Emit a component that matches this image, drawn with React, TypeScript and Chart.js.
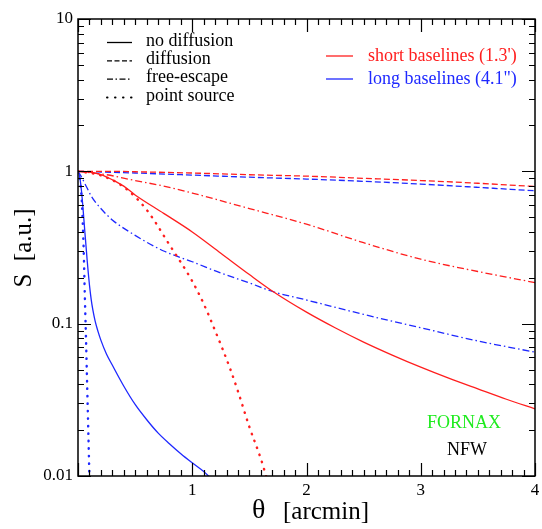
import React, { useEffect, useRef } from "react";
import { Chart, registerables } from "chart.js";

Chart.register(...registerables);

// Surface brightness profiles S(θ), normalised to 1 at the centre.
// Pairs are [θ in arcmin, S in arbitrary units].
const shortNoDiffusion: [number, number][] = [
  [0, 1], [0.1, 0.99], [0.2, 0.95], [0.3, 0.88], [0.4, 0.8], [0.5, 0.7], [0.75, 0.53],
  [1, 0.4], [1.25, 0.29], [1.5, 0.21], [1.71, 0.162], [2, 0.119], [2.25, 0.094],
  [2.5, 0.0757], [2.75, 0.0622], [3, 0.0518], [3.25, 0.0437], [3.5, 0.0373],
  [3.75, 0.0319], [4, 0.0276],
];
const shortDiffusion: [number, number][] = [
  [0, 1], [0.3, 1], [0.6, 0.99], [1, 0.975], [1.5, 0.95], [2, 0.93], [2.5, 0.9],
  [3, 0.87], [3.5, 0.835], [4, 0.795],
];
const shortFreeEscape: [number, number][] = [
  [0, 1], [0.25, 0.95], [0.5, 0.87], [0.75, 0.8], [1, 0.72], [1.5, 0.57], [2, 0.45],
  [2.5, 0.34], [3, 0.265], [3.5, 0.22], [4, 0.186],
];
const shortPointSource: [number, number][] = [
  [0, 1], [0.2, 0.94], [0.4, 0.79], [0.6, 0.56], [0.8, 0.33], [1, 0.19], [1.1, 0.135],
  [1.2, 0.09], [1.33, 0.051], [1.4, 0.036], [1.5, 0.021], [1.6, 0.013], [1.65, 0.0098],
];
const longNoDiffusion: [number, number][] = [
  [0, 1], [0.01, 0.96], [0.02, 0.87], [0.03, 0.75], [0.04, 0.62], [0.05, 0.5],
  [0.06, 0.4], [0.07, 0.325], [0.08, 0.262], [0.09, 0.215], [0.1, 0.18], [0.115, 0.145],
  [0.13, 0.123], [0.15, 0.104], [0.175, 0.089], [0.2, 0.078], [0.25, 0.063],
  [0.3, 0.0535], [0.4, 0.039], [0.5, 0.0295], [0.6, 0.0235], [0.7, 0.0192],
  [0.8, 0.0163], [0.9, 0.014], [1, 0.0122], [1.1, 0.0107], [1.15, 0.0099],
];
const longDiffusion: [number, number][] = [
  [0, 1], [0.2, 0.99], [0.5, 0.975], [1, 0.945], [1.5, 0.915], [2, 0.89], [2.5, 0.86],
  [3, 0.825], [3.5, 0.785], [4, 0.745],
];
const longFreeEscape: [number, number][] = [
  [0, 1], [0.03, 0.92], [0.075, 0.79], [0.12, 0.68], [0.2, 0.57], [0.3, 0.48], [0.5, 0.38],
  [0.75, 0.3], [1, 0.255], [1.25, 0.215], [1.5, 0.185], [1.71, 0.162], [2, 0.143],
  [2.5, 0.115], [3, 0.094], [3.5, 0.077], [4, 0.065],
];
const longPointSource: [number, number][] = [
  [0, 1], [0.02, 0.85], [0.035, 0.6], [0.05, 0.3], [0.06, 0.15], [0.07, 0.08],
  [0.08, 0.04], [0.09, 0.02], [0.1, 0.0098],
];

const xTickValues = [1, 2, 3, 4];
const xTickLabels = ["1", "2", "3", "4"];
const yTickValues = [0.01, 0.1, 1, 10];
const yTickLabels = ["0.01", "0.1", "1", "10"];

const styleLegend = ["no diffusion", "diffusion", "free-escape", "point source"];
const baselineLegend = ["short baselines (1.3')", "long baselines (4.1\")"];

const RED = "rgb(255,30,30)";
const BLUE = "rgb(30,40,255)";
const SOLID: number[] = [];
const DASHED = [6, 3];
const DASHDOT = [7, 3, 1.5, 3];
const DOTTED = [0.5, 7];
const styleDashes = [SOLID, [5, 2.5], [6, 2.5, 1.5, 2.5], [0.5, 7.5]];
const SERIF = "'Liberation Serif', 'Times New Roman', serif";

const toPoints = (arr: [number, number][]) => arr.map(([x, y]) => ({ x, y }));

const line = (data: [number, number][], color: string, dash: number[]) => ({
  data: toPoints(data),
  borderColor: color,
  borderWidth: dash === DOTTED ? 2.4 : 1.3,
  borderDash: dash,
  pointRadius: 0,
  fill: false,
  cubicInterpolationMode: "monotone" as const,
  borderCapStyle: dash === DOTTED ? ("round" as const) : ("butt" as const),
});

const framePlugin = {
  id: "frame",
  afterDraw(chart: any) {
    const { ctx, chartArea } = chart;
    const xs = chart.scales.x;
    const ys = chart.scales.y;
    const { left, right, top, bottom } = chartArea;
    ctx.save();
    ctx.strokeStyle = "#000";
    ctx.lineWidth = 1.5;
    ctx.strokeRect(left, top, right - left, bottom - top);

    // ticks along θ, pointing inward on bottom and top
    ctx.lineWidth = 1.2;
    for (let i = 0; i <= 40; i++) {
      const v = i / 10;
      const px = Math.round(xs.getPixelForValue(v)) + 0.5;
      const len = i % 10 === 0 ? 13 : 6;
      ctx.beginPath();
      ctx.moveTo(px, bottom);
      ctx.lineTo(px, bottom - len);
      ctx.moveTo(px, top);
      ctx.lineTo(px, top + len);
      ctx.stroke();
    }
    // logarithmic ticks along S, on left and right
    for (let d = -2; d <= 1; d++) {
      for (let m = 1; m <= 9; m++) {
        if (d === 1 && m > 1) break;
        const v = m * Math.pow(10, d);
        const py = Math.round(ys.getPixelForValue(v)) + 0.5;
        const len = m === 1 ? 13 : 6;
        ctx.beginPath();
        ctx.moveTo(left, py);
        ctx.lineTo(left + len, py);
        ctx.moveTo(right, py);
        ctx.lineTo(right - len, py);
        ctx.stroke();
      }
    }

    // tick labels
    ctx.fillStyle = "#000";
    ctx.font = `17px ${SERIF}`;
    ctx.textAlign = "center";
    ctx.textBaseline = "top";
    xTickValues.forEach((v, i) => {
      ctx.fillText(xTickLabels[i], xs.getPixelForValue(v), bottom + 6);
    });
    ctx.textAlign = "right";
    ctx.textBaseline = "middle";
    yTickValues.forEach((v, i) => {
      ctx.fillText(yTickLabels[i], left - 5, ys.getPixelForValue(v));
    });

    // axis titles
    ctx.textAlign = "left";
    ctx.font = `28px ${SERIF}`;
    ctx.fillText("θ", 252, bottom + 35);
    ctx.font = `25px ${SERIF}`;
    ctx.fillText("[arcmin]", 283, bottom + 36);
    ctx.textAlign = "center";
    ctx.save();
    ctx.translate(24, 248);
    ctx.rotate(-Math.PI / 2);
    ctx.fillText("S  [a.u.]", 0, 0);
    ctx.restore();

    // line-style key
    ctx.font = `18px ${SERIF}`;
    ctx.textAlign = "left";
    ctx.lineWidth = 1.3;
    styleLegend.forEach((label, i) => {
      const y = 41 + i * 18.3;
      ctx.setLineDash(styleDashes[i]);
      ctx.lineCap = i === 3 ? "round" : "butt";
      ctx.lineWidth = i === 3 ? 2 : 1.3;
      ctx.beginPath();
      ctx.moveTo(107, y + 1.5);
      ctx.lineTo(132, y + 1.5);
      ctx.stroke();
      ctx.setLineDash([]);
      ctx.fillStyle = "#000";
      ctx.fillText(label, 146, y);
    });
    ctx.lineCap = "butt";
    ctx.lineWidth = 1.3;

    // baseline key
    ctx.font = `18px ${SERIF}`;
    [RED, BLUE].forEach((c, i) => {
      const y = 56 + i * 23;
      ctx.strokeStyle = c;
      ctx.beginPath();
      ctx.moveTo(326, y);
      ctx.lineTo(353, y);
      ctx.stroke();
      ctx.fillStyle = c;
      ctx.fillText(baselineLegend[i], 368, y);
    });

    // annotations
    ctx.font = `18px ${SERIF}`;
    ctx.fillStyle = "rgb(30,235,30)";
    ctx.fillText("FORNAX", 427, 423);
    ctx.fillStyle = "#000";
    ctx.fillText("NFW", 447, 450);
    ctx.restore();
  },
};

export default function App() {
  const ref = useRef<HTMLCanvasElement | null>(null);
  useEffect(() => {
    if (!ref.current) return;
    const chart = new Chart(ref.current, {
      type: "line",
      data: {
        datasets: [
          line(shortNoDiffusion, RED, SOLID),
          line(shortDiffusion, RED, DASHED),
          line(shortFreeEscape, RED, DASHDOT),
          line(shortPointSource, RED, DOTTED),
          line(longNoDiffusion, BLUE, SOLID),
          line(longDiffusion, BLUE, DASHED),
          line(longFreeEscape, BLUE, DASHDOT),
          line(longPointSource, BLUE, DOTTED),
        ] as any,
      },
      plugins: [framePlugin],
      options: {
        responsive: false,
        animation: false,
        layout: { padding: { left: 78, top: 19, right: 7, bottom: 53 } },
        plugins: { legend: { display: false }, tooltip: { enabled: false } },
        scales: {
          x: { type: "linear", min: 0, max: 4, display: false },
          y: { type: "logarithmic", min: 0.01, max: 10, display: false },
        },
      },
    });
    return () => chart.destroy();
  }, []);
  return (
    <div style={{ position: "fixed", left: 0, top: 0, width: 542, height: 529, background: "#fff" }}>
      <canvas ref={ref} width={542} height={529} />
    </div>
  );
}
